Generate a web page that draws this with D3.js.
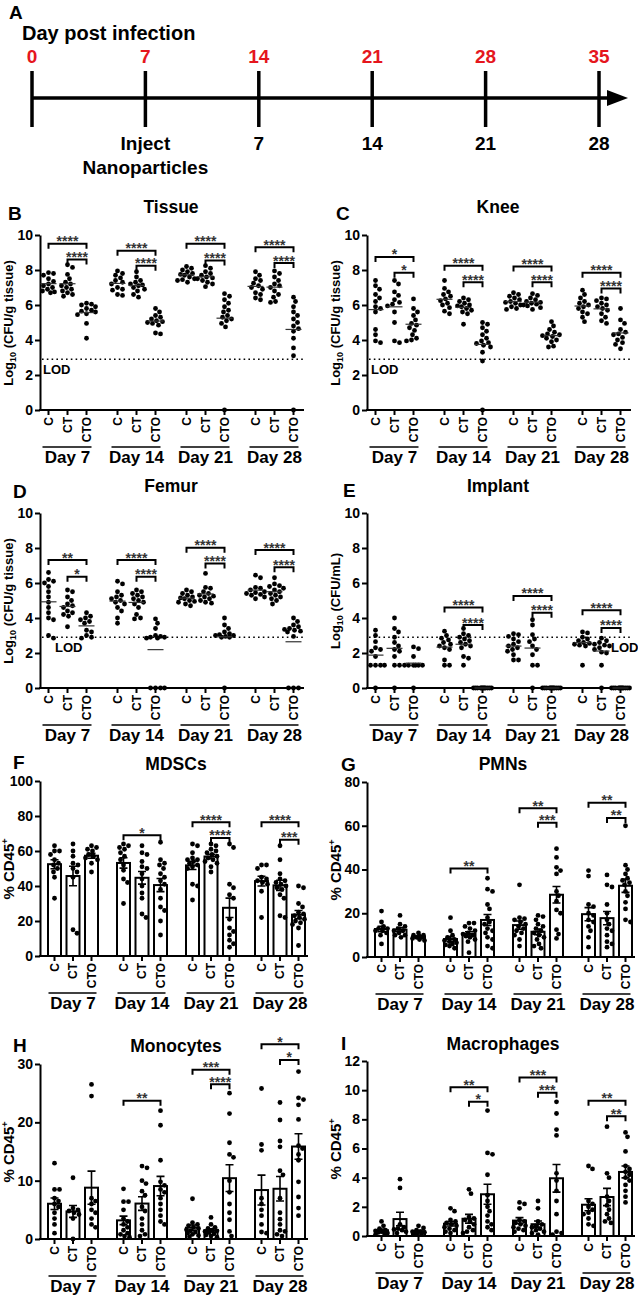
<!DOCTYPE html>
<html><head><meta charset="utf-8">
<script src="https://cdn.jsdelivr.net/npm/d3@7"></script>
<style>
body{margin:0;background:#fff}
svg{display:block}
text{font-family:"Liberation Sans",Arial,Helvetica,sans-serif;font-weight:bold}
</style>
</head><body>
<svg id="c" width="638" height="1296"></svg>
<script>
// ---------------- DATA ----------------
const days = ["Day 7","Day 14","Day 21","Day 28"];
const groups = ["C","CT","CTO"];
const timelineDays = [0,7,14,21,28,35];
const timelineLower = ["","Inject","7","14","21","28"];

// Tissue (log10 CFU/g)
const tissueC = [
 [7.85,7.8,7.7,7.5,7.35,7.2,7.1,7.0,6.9,6.8,6.75,6.7],
 [7.95,7.8,7.7,7.55,7.4,7.3,7.2,7.0,6.9,6.85,6.6,6.55],
 [8.2,8.1,8.0,7.9,7.8,7.75,7.7,7.6,7.5,7.45,7.4,7.3],
 [7.9,7.7,7.5,7.4,7.25,7.1,7.0,6.9,6.7,6.6,6.4,6.3]];
const tissueCT = [
 [8.3,8.15,7.75,7.5,7.3,7.2,7.1,7.0,6.9,6.8,6.7,6.6,6.5],
 [7.9,7.6,7.4,7.3,7.2,7.15,7.1,7.0,6.9,6.8,6.6,6.45],
 [8.25,8.1,7.9,7.8,7.7,7.6,7.55,7.5,7.4,7.3,7.2,7.05],
 [7.95,7.8,7.6,7.4,7.2,7.1,7.0,6.8,6.6,6.45,6.2,6.15]];
const tissueCTO = [
 [6.1,6.05,6.0,5.9,5.8,5.7,5.65,5.6,5.5,5.45,4.95,4.1],
 [5.8,5.6,5.4,5.3,5.2,5.1,5.05,5.0,4.95,4.85,4.4,4.35],
 [6.65,6.5,6.3,6.1,5.9,5.7,5.6,5.4,5.3,5.2,5.1,4.95,4.75,0],
 [6.45,6.2,5.9,5.6,5.4,5.2,5.0,4.8,4.65,4.5,4.1,3.55,3.1,0]];
const sigTissue = [
 {day:"Day 7",from:"C",v:9.5,s:"****"},{day:"Day 7",from:"CT",v:8.6,s:"****"},
 {day:"Day 14",from:"C",v:9.1,s:"****"},{day:"Day 14",from:"CT",v:8.25,s:"****"},
 {day:"Day 21",from:"C",v:9.5,s:"****"},{day:"Day 21",from:"CT",v:8.55,s:"****"},
 {day:"Day 28",from:"C",v:9.3,s:"****"},{day:"Day 28",from:"CT",v:8.4,s:"****"}];

// Knee
const kneeC = [
 [7.4,7.1,6.9,6.6,6.4,6.2,5.9,5.8,5.6,4.6,4.3,3.95,3.85],
 [7.4,6.95,6.75,6.6,6.5,6.35,6.25,6.1,6.0,5.85,5.65,5.5],
 [6.7,6.6,6.5,6.4,6.3,6.2,6.15,6.1,6.0,5.9,5.8,5.75],
 [6.85,6.6,6.4,6.2,6.1,6.0,5.9,5.8,5.6,5.5,5.3,5.05]];
const kneeCT = [
 [7.4,7.2,6.75,6.55,6.3,6.15,6.05,5.95,5.6,5.0,3.95,3.85],
 [6.4,6.3,6.2,6.1,6.0,5.95,5.9,5.8,5.7,5.6,5.5,4.9],
 [6.65,6.55,6.4,6.3,6.2,6.15,6.1,6.05,6.0,5.95,5.85,5.75],
 [6.4,6.35,6.25,6.1,6.0,5.9,5.8,5.7,5.5,5.3,5.1,4.95]];
const kneeCTO = [
 [6.35,5.8,5.6,5.4,5.15,4.95,4.85,4.7,4.55,4.3,4.1,4.0,3.95],
 [5.0,4.9,4.7,4.5,4.3,4.1,3.95,3.85,3.8,3.7,3.6,3.3,2.8,0],
 [5.05,4.8,4.6,4.45,4.35,4.3,4.25,4.2,4.1,4.0,3.9,3.65,3.6],
 [5.8,5.15,4.95,4.6,4.45,4.35,4.3,4.15,4.0,3.85,3.75,3.5]];
const sigKnee = [
 {day:"Day 7",from:"C",v:8.75,s:"*"},{day:"Day 7",from:"CT",v:7.85,s:"*"},
 {day:"Day 14",from:"C",v:8.25,s:"****"},{day:"Day 14",from:"CT",v:7.3,s:"****"},
 {day:"Day 21",from:"C",v:8.2,s:"****"},{day:"Day 21",from:"CT",v:7.3,s:"****"},
 {day:"Day 28",from:"C",v:7.85,s:"****"},{day:"Day 28",from:"CT",v:6.95,s:"****"}];

// Femur
const femurC = [
 [6.6,6.2,6.1,6.0,5.8,5.5,5.2,4.9,4.6,4.3,4.0,3.9,3.0,2.85],
 [6.1,5.95,5.5,5.3,5.2,5.1,5.0,4.9,4.8,4.6,4.4,4.0,3.7],
 [5.6,5.5,5.4,5.3,5.2,5.15,5.1,5.0,4.95,4.9,4.8,4.7],
 [6.45,6.3,5.75,5.7,5.6,5.5,5.45,5.4,5.35,5.3,5.2,5.1]];
const femurCT = [
 [5.6,5.5,5.2,5.0,4.8,4.7,4.6,4.4,4.3,4.2,4.1,3.5],
 [5.6,5.5,5.4,5.3,5.2,5.1,5.0,4.9,4.8,4.6,4.2,4.0,3.95],
 [6.55,5.75,5.7,5.5,5.4,5.3,5.25,5.2,5.1,5.0,4.9,4.85],
 [6.3,5.95,5.85,5.8,5.7,5.6,5.5,5.4,5.3,5.2,5.1,5.0,4.8]];
const femurCTO = [
 [4.3,4.1,4.0,3.9,3.8,3.7,3.3,3.2,3.0,2.9,2.85],
 [3.95,3.7,3.4,3.0,2.95,2.9,2.9,2.85,2.85,0,0,0,0],
 [4.0,3.6,3.4,3.2,3.1,3.05,3.0,3.0,2.95,2.9,2.9,0],
 [4.0,3.8,3.6,3.5,3.4,3.35,3.3,3.25,3.2,2.95,0,0,0]];
const sigFemur = [
 {day:"Day 7",from:"C",v:7.31,s:"**"},{day:"Day 7",from:"CT",v:6.36,s:"*"},
 {day:"Day 14",from:"C",v:7.31,s:"****"},{day:"Day 14",from:"CT",v:6.36,s:"****"},
 {day:"Day 21",from:"C",v:8.02,s:"****"},{day:"Day 21",from:"CT",v:7.12,s:"****"},
 {day:"Day 28",from:"C",v:7.88,s:"****"},{day:"Day 28",from:"CT",v:6.9,s:"****"}];

// Implant (log10 CFU/mL)
const implantC = [
 [3.3,3.0,2.65,2.3,2.2,2.1,1.8,1.3,1.3,1.3,1.3,0],
 [3.25,3.0,2.85,2.75,2.6,2.5,2.4,2.3,2.2,1.6,1.3,1.3],
 [3.1,3.05,2.95,2.8,2.65,2.5,2.4,2.3,2.2,2.1,1.9,1.6,1.6],
 [3.2,3.15,2.9,2.8,2.7,2.6,2.55,2.5,2.45,2.4,1.3]];
const implantCT = [
 [4.0,3.4,3.2,2.9,2.6,2.4,2.2,2.1,1.8,1.3,1.3,0],
 [3.4,3.1,3.0,2.9,2.8,2.7,2.6,2.5,2.4,2.3,1.8,1.7,1.3],
 [3.9,3.6,3.05,2.8,2.65,2.4,2.2,1.9,1.3,1.3,0],
 [2.85,2.7,2.6,2.5,2.45,2.4,2.3,2.2,2.05,2.0,1.3,0]];
const implantCTO = [
 [2.35,2.25,1.8,1.3,1.3,1.3,1.3,1.3,1.3,0],
 [0,0,0,0,0,0,0,0,0,0,0,0],
 [0,0,0,0,0,0,0,0,0,0,0,0],
 [0,0,0,0,0,0,0,0,0,0,0,0]];
const sigImplant = [
 {day:"Day 14",from:"C",v:4.6,s:"****"},{day:"Day 14",from:"CT",v:3.6,s:"****"},
 {day:"Day 21",from:"C",v:5.26,s:"****"},{day:"Day 21",from:"CT",v:4.3,s:"****"},
 {day:"Day 28",from:"C",v:4.45,s:"****"},{day:"Day 28",from:"CT",v:3.43,s:"****"}];

// MDSCs (% CD45+)
const mdscC = [
 [63,60,60,58,55,53,52,50,48,45,33],
 [64,63,62,61,59,57,55,52,49,44,42,30],
 [64,63,59,56,55,55,54,53,52,51,50,41,40,32],
 [52,52,50,45,44,43,42,41,37,22]];
const mdscCT = [
 [64,60,57,53,52,50,48,45,15,13],
 [63,59,58,54,51,50,47,44,40,36,33,24,22],
 [64,63,61,60,59,58,57,56,55,54,53,51,48],
 [63,55,47,44,43,42,41,40,39,38,35,33,23,22]];
const mdscCTO = [
 [63,62,61,60,58,57,56,55,53,48],
 [65,55,53,52,50,47,45,43,41,38,33,28,26,20,12],
 [64,62,41,39,35,33,21,16,14,12,9,7,5],
 [40,39,30,28,25,24,23,22,21,20,19,18,16,6]];
const sigMdsc = [
 {day:"Day 14",from:"C",v:69,s:"*"},
 {day:"Day 21",from:"C",v:76.5,s:"****"},{day:"Day 21",from:"CT",v:67.5,s:"****"},
 {day:"Day 28",from:"C",v:76.5,s:"****"},{day:"Day 28",from:"CT",v:66.5,s:"***"}];

// PMNs
const pmnC = [
 [21,16,14,13,13,12,12,11,10,6],
 [18,12,10,9,8,7.5,7,6.5,6,5.5,5,4],
 [33,18,17.5,17,16,15,14,13,12,11,10,8,5],
 [39.5,37,24,23,20,19,17,16,14,12,9,4.5]];
const pmnCT = [
 [19,15,14,13,12,12,11,10,10,9],
 [15.5,15.5,14,13,12,11,10.5,10,9.5,9,8,7,2],
 [19,18.5,17,15,14,13,12,11,10,9,8,6,5,4],
 [37.5,33,32,24,20,17,15,13,12,10,7,6,4.5]];
const pmnCTO = [
 [11,10,10,9.5,9,9,8.5,8,7.5],
 [36,31,30,24,22,18,16,15,13,12,11,9,8,5,4],
 [49.5,45.5,41,39.5,38,30,28,25.5,21.5,20,12.5,10.5,8.5],
 [60,42,40,38,36,35,34,33,30,28,25,22,17,16]];
const sigPmn = [
 {day:"Day 14",from:"C",v:40.5,s:"**"},
 {day:"Day 21",from:"C",v:68,s:"**"},{day:"Day 21",from:"CT",v:61.4,s:"***"},
 {day:"Day 28",from:"C",v:70.5,s:"**"},{day:"Day 28",from:"CT",v:63.6,s:"**"}];

// Monocytes
const monoC = [
 [13,8.5,8.5,7,6.5,6,5.5,4.5,3.5,2.5,1],
 [8.6,6.4,6.4,5,3.5,3,2.5,2,1.5,1,0.8,0.5,0.3],
 [6.9,2.8,2.5,2.3,2,1.8,1.6,1.4,1.2,1,0.8,0.6,0.4],
 [25.8,16.2,15.2,7,6,5,4,2.5,1.2,1]];
const monoCT = [
 [10.5,5.3,5,4.8,4.5,4.2,3.5,0],
 [12.5,12.2,10,9.5,8.2,7.5,5.5,4.8,3.5,2.5,1.5,0.8,0.5],
 [3.7,2.5,2,1.8,1.5,1.4,1.3,1.1,0.9,0.7,0.5,0.3],
 [23.4,20.4,16.8,15.8,11.7,11,7,4.5,3.4,2.5,1.5,1.3,0.8,0.5]];
const monoCTO = [
 [26.5,24.5,7,6.5,6,5,4.5,3.5,2.5,2],
 [22,19.5,13.5,9.8,9.2,8.5,8,7,6,5,4,3,2.5],
 [25,21.5,16.5,14.5,14,10,8,6,4.5,3.3,1.3,0.5],
 [28.7,24.2,23.9,23,20.5,16,15.5,14.5,13.5,9.8,7.2,5.3,4]];
const sigMono = [
 {day:"Day 14",from:"C",v:23.7,s:"**"},
 {day:"Day 21",from:"C",v:29.0,s:"***"},{day:"Day 21",from:"CT",v:26.55,s:"****"},
 {day:"Day 28",from:"C",v:33.4,s:"*"},{day:"Day 28",from:"CT",v:30.7,s:"*"}];

// Macrophages
const macroC = [
 [1.0,0.7,0.5,0.4,0.35,0.3,0.25,0.2,0.15,0.1],
 [1.9,1.7,1.1,1.0,0.9,0.8,0.7,0.6,0.5,0.4,0.3,0.2],
 [2.3,2.2,1.9,1.1,1.0,0.9,0.8,0.7,0.6,0.5,0.4,0.3],
 [4.8,4.6,2.4,2.2,2.0,1.8,1.6,1.5,1.2,0.8,0.7]];
const macroCT = [
 [3.9,3.3,0.8,0.6,0.5,0.45,0.4,0.3,0.2],
 [3.2,2.9,1.3,1.2,1.1,1.0,0.8,0.6,0.4,0.3,0.2],
 [2.4,1.9,1.0,0.8,0.7,0.6,0.5,0.4,0.3,0.2,0.1],
 [7.5,4.3,4.0,2.7,2.4,2.1,1.8,1.5,1.2,1.0,0.9]];
const macroCTO = [
 [0.7,0.55,0.4,0.3,0.3,0.25,0.2,0.15,0.1],
 [8.6,5.7,5.6,4.2,2.8,2.4,2.0,1.7,1.4,1.0,0.8,0.6,0.4],
 [9.2,8.4,7.3,6.9,4.3,3.8,3.1,2.4,1.5,0.3,0.2,0.1],
 [7.1,6.8,5.8,4.8,4.6,4.4,4.2,4.0,3.8,3.5,3.1,2.7,2.3]];
const sigMacro = [
 {day:"Day 14",from:"C",v:10.2,s:"**"},{day:"Day 14",from:"CT",v:9.2,s:"*"},
 {day:"Day 21",from:"C",v:10.87,s:"***"},{day:"Day 21",from:"CT",v:9.82,s:"***"},
 {day:"Day 28",from:"C",v:9.27,s:"**"},{day:"Day 28",from:"CT",v:8.22,s:"**"}];

const logTicks = [0,2,4,6,8,10];
const mdscTicks = [0,20,40,60,80,100];
const pmnTicks = [0,20,40,60,80];
const monoTicks = [0,10,20,30];
const macroTicks = [0,2,4,6,8,10,12];
const LOD = 2.9;

// ---------------- DRAWING ----------------
const svg = d3.select("#c");
const RED = "#e5161d";

// Panel A timeline
(function(){
  const tx = d3.scaleLinear().domain([0,35]).range([32,599]);
  const g = svg.append("g");
  g.append("text").attr("x",9).attr("y",19).attr("font-size",19).text("A");
  g.append("text").attr("x",22).attr("y",40).attr("font-size",20).text("Day post infection");
  g.append("line").attr("x1",tx(0)).attr("x2",612).attr("y1",98).attr("y2",98)
    .attr("stroke","#000").attr("stroke-width",3.5);
  g.append("path").attr("d","M607,90L628,98L607,106Z").attr("fill","#000");
  timelineDays.forEach((d,i)=>{
    g.append("line").attr("x1",tx(d)).attr("x2",tx(d)).attr("y1",71).attr("y2",127)
      .attr("stroke","#000").attr("stroke-width",3.5);
    g.append("text").attr("x",tx(d)).attr("y",63).attr("text-anchor","middle")
      .attr("font-size",19).attr("fill",RED).text(d);
    if(timelineLower[i]) g.append("text").attr("x",tx(d)).attr("y",150).attr("text-anchor","middle")
      .attr("font-size",19).text(timelineLower[i]);
  });
  g.append("text").attr("x",tx(7)).attr("y",174).attr("text-anchor","middle").attr("font-size",19).text("Nanoparticles");
})();

function swarm(vals, y, r, maxW){
  const placed=[], out=[];
  const order = vals.map((v,i)=>i).sort((a,b)=>vals[b]-vals[a]);
  order.forEach(i=>{
    const py=y(vals[i]);
    let best=0,bestD=-1;
    for(let k=0;k<=2*maxW;k++){
      const dx=(k%2?1:-1)*Math.ceil(k/2);
      let minD=Infinity;
      for(const p of placed){const d=Math.hypot(p.x-dx,p.y-py); if(d<minD)minD=d;}
      if(minD>=2*r){best=dx;bestD=Infinity;break;}
      if(minD>bestD){bestD=minD;best=dx;}
    }
    placed.push({x:best,y:py}); out[i]={x:best,y:py};
  });
  return out;
}

function addPanel(cfg){
  const g = svg.append("g");
  const y = d3.scaleLinear().domain([0,cfg.yMax]).range([cfg.y0, cfg.y0-175]);
  const isBar = cfg.kind==="bar";
  const ct0 = isBar?33:27.5, gs = isBar?18.5:19, W = isBar?268:264;
  const dayX = d3.scalePoint().domain(days).range([cfg.x0+ct0, cfg.x0+ct0+207]);
  const grpX = d3.scalePoint().domain(groups).range([-gs, gs]);
  const X = (d,gr)=>dayX(d)+grpX(gr);

  g.append("text").attr("x",cfg.lx).attr("y",cfg.ly).attr("font-size",19).text(cfg.letter);
  g.append("text").attr("x",cfg.x0+(isBar?136:131)).attr("y",cfg.ty).attr("text-anchor","middle")
    .attr("font-size",17.5).text(cfg.title);

  if(cfg.lod!=null){
    g.append("line").attr("x1",cfg.x0+2).attr("x2",cfg.x0+W).attr("y1",y(cfg.lod)).attr("y2",y(cfg.lod))
      .attr("stroke","#000").attr("stroke-width",1.6).attr("stroke-dasharray","1.6,3.2");
    g.append("text").attr("x",cfg.x0+cfg.lodDx).attr("y",y(cfg.lod)+15).attr("font-size",13).text("LOD");
  }

  // bars
  if(isBar){
    days.forEach((d,i)=>groups.forEach(gr=>{
      const vals=cfg.data[gr][i], m=d3.mean(vals), sem=d3.deviation(vals)/Math.sqrt(vals.length), cx=X(d,gr);
      g.append("rect").attr("x",cx-6.5).attr("width",13).attr("y",y(m)).attr("height",y(0)-y(m))
        .attr("fill","#fff").attr("stroke","#000").attr("stroke-width",2);
      g.append("path").attr("d",`M${cx},${y(m-sem)}V${y(m+sem)}M${cx-4},${y(m+sem)}H${cx+4}M${cx-4},${y(Math.max(0,m-sem))}H${cx+4}`)
        .attr("stroke","#000").attr("stroke-width",1.6).attr("fill","none");
    }));
  }

  // y axis
  g.append("g").attr("transform",`translate(${cfg.x0},0)`)
    .call(d3.axisLeft(y).tickValues(cfg.yTicks).tickSize(5).tickSizeOuter(0).tickPadding(2))
    .call(a=>{
      a.attr("font-family",null).attr("font-size",null);
      a.select(".domain").attr("stroke-width",2);
      a.selectAll(".tick line").attr("stroke-width",2);
      a.selectAll(".tick text").attr("font-size",14).attr("fill","#000");
    });
  // x axis
  g.append("line").attr("x1",cfg.x0-1).attr("x2",cfg.x0+W).attr("y1",cfg.y0).attr("y2",cfg.y0)
    .attr("stroke","#000").attr("stroke-width",2);
  days.forEach(d=>{
    groups.forEach(gr=>{
      const cx=X(d,gr);
      g.append("line").attr("x1",cx).attr("x2",cx).attr("y1",cfg.y0).attr("y2",cfg.y0+5)
        .attr("stroke","#000").attr("stroke-width",2);
      g.append("text").attr("transform",`translate(${cx+4.3},${cfg.y0+7}) rotate(-90)`)
        .attr("text-anchor","end").attr("font-size",12).text(gr);
    });
    g.append("line").attr("x1",X(d,"C")-6).attr("x2",X(d,"CTO")+5)
      .attr("y1",cfg.y0+37).attr("y2",cfg.y0+37).attr("stroke","#000").attr("stroke-width",1.6);
    g.append("text").attr("x",X(d,"CT")).attr("y",cfg.y0+53).attr("text-anchor","middle")
      .attr("font-size",17).text(d);
  });

  // points
  days.forEach((d,i)=>groups.forEach(gr=>{
    const vals=cfg.data[gr][i], cx=X(d,gr);
    const pts=swarm(vals,y,2.4,isBar?6:9);
    g.selectAll(null).data(pts).enter().append("circle")
      .attr("cx",p=>cx+p.x).attr("cy",p=>p.y).attr("r",2.4).attr("fill","#000");
    if(!isBar){
      const m=d3.mean(vals);
      g.append("line").attr("x1",cx-8).attr("x2",cx+8).attr("y1",y(m)).attr("y2",y(m))
        .attr("stroke","#333").attr("stroke-width",1.2);
    }
  }));

  // significance brackets
  cfg.sig.forEach(s=>{
    const x1=X(s.day,s.from), x2=X(s.day,"CTO"), yy=y(s.v);
    g.append("path").attr("d",`M${x1},${yy+5}V${yy}H${x2}V${yy+5}`)
      .attr("fill","none").attr("stroke","#000").attr("stroke-width",2);
    g.append("text").attr("x",(x1+x2)/2).attr("y",yy+2.5).attr("text-anchor","middle")
      .attr("font-size",14).attr("font-weight","normal").attr("fill","#333").text(s.s);
  });

  // y title
  const t=g.append("text").attr("transform",`translate(${cfg.yTitleX},${cfg.y0-87}) rotate(-90)`)
    .attr("text-anchor","middle").attr("font-size",cfg.log?13:15);
  if(cfg.log){
    t.append("tspan").text("Log");
    t.append("tspan").attr("font-size",9).attr("dy",3).text("10");
    t.append("tspan").attr("dy",-3).text(cfg.unit);
  } else {
    t.append("tspan").text("% CD45");
    t.append("tspan").attr("font-size",9).attr("dy",-6).text("+");
  }
}

addPanel({letter:"B",lx:8,ly:220,title:"Tissue",ty:213,x0:40,y0:410,kind:"scatter",yMax:10,yTicks:logTicks,
  data:{C:tissueC,CT:tissueCT,CTO:tissueCTO},sig:sigTissue,lod:LOD,lodDx:3,log:true,unit:" (CFU/g tissue)",yTitleX:13});
addPanel({letter:"C",lx:336,ly:220,title:"Knee",ty:213,x0:367,y0:410,kind:"scatter",yMax:10,yTicks:logTicks,
  data:{C:kneeC,CT:kneeCT,CTO:kneeCTO},sig:sigKnee,lod:LOD,lodDx:4,log:true,unit:" (CFU/g tissue)",yTitleX:340});
addPanel({letter:"D",lx:13,ly:498,title:"Femur",ty:492,x0:40,y0:688,kind:"scatter",yMax:10,yTicks:logTicks,
  data:{C:femurC,CT:femurCT,CTO:femurCTO},sig:sigFemur,lod:LOD,lodDx:15,log:true,unit:" (CFU/g tissue)",yTitleX:13});
addPanel({letter:"E",lx:343,ly:497,title:"Implant",ty:492,x0:367,y0:688,kind:"scatter",yMax:10,yTicks:logTicks,
  data:{C:implantC,CT:implantCT,CTO:implantCTO},sig:sigImplant,lod:LOD,lodDx:244,log:true,unit:" (CFU/mL)",yTitleX:340});
addPanel({letter:"F",lx:13,ly:769,title:"MDSCs",ty:770,x0:40,y0:956,kind:"bar",yMax:100,yTicks:mdscTicks,
  data:{C:mdscC,CT:mdscCT,CTO:mdscCTO},sig:sigMdsc,log:false,yTitleX:14});
addPanel({letter:"G",lx:341,ly:771,title:"PMNs",ty:770,x0:367,y0:957,kind:"bar",yMax:80,yTicks:pmnTicks,
  data:{C:pmnC,CT:pmnCT,CTO:pmnCTO},sig:sigPmn,log:false,yTitleX:341});
addPanel({letter:"H",lx:13,ly:1052,title:"Monocytes",ty:1052,x0:40,y0:1239,kind:"bar",yMax:30,yTicks:monoTicks,
  data:{C:monoC,CT:monoCT,CTO:monoCTO},sig:sigMono,log:false,yTitleX:14});
addPanel({letter:"I",lx:341,ly:1050,title:"Macrophages",ty:1050,x0:367,y0:1236,kind:"bar",yMax:12,yTicks:macroTicks,
  data:{C:macroC,CT:macroCT,CTO:macroCTO},sig:sigMacro,log:false,yTitleX:341});
</script>
</body></html>
